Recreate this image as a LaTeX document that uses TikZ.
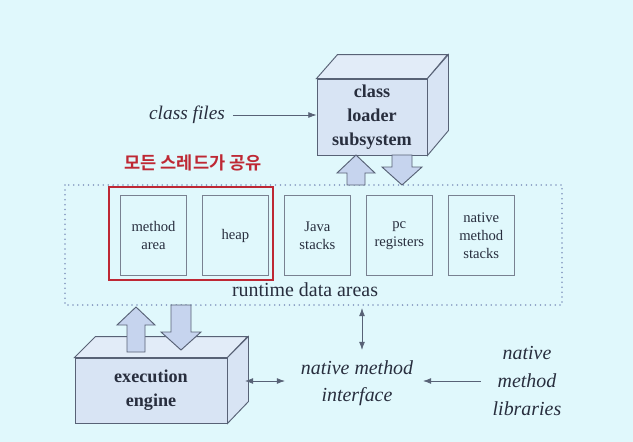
\documentclass[tikz,border=0pt]{standalone}
\usepackage{fontspec}
\setmainfont{Liberation Serif}
\newfontfamily\krfont{Noto Sans CJK KR}[BoldFont={* Bold}]
\usetikzlibrary{arrows.meta,positioning,calc}

\definecolor{bgcol}{RGB}{224,248,252}
\definecolor{facecol}{RGB}{216,228,244}
\definecolor{topcol}{RGB}{226,236,248}
\definecolor{arrcol}{RGB}{198,212,238}
\definecolor{edgecol}{RGB}{88,98,118}
\definecolor{dotcol}{RGB}{130,150,190}
\definecolor{redcol}{RGB}{190,40,52}
\definecolor{inkcol}{RGB}{40,46,62}

\tikzset{
  area/.style={draw=edgecol!80,line width=0.8pt,minimum width=1.98cm,minimum height=2.4cm,
    align=center,text=inkcol,font=\fontsize{12.5}{15.3}\selectfont},
  face/.style={draw=edgecol,line width=0.8pt,fill=facecol},
  boxtext/.style={align=center,text=inkcol,font=\bfseries\fontsize{15.5}{20.6}\selectfont},
  itext/.style={align=center,text=inkcol,font=\itshape\fontsize{16.5}{20}\selectfont},
  conn/.style={draw=edgecol,line width=0.6pt,-{Latex[length=7pt,width=5pt]}},
  both/.style={conn,{Latex[length=7pt,width=5pt]}-{Latex[length=7pt,width=5pt]}},
  blockarrow/.style={draw=edgecol,line width=0.8pt,fill=arrcol},
}

% fette Pfeile: #1 = x-Mitte, #2 = Anfang, #3 = Spitze
\newcommand{\fatup}[3]{%
  \draw[blockarrow] ({#1-9},#2) -- ({#1-9},{#3+18}) -- ({#1-19},{#3+18}) -- (#1,#3)
    -- ({#1+19},{#3+18}) -- ({#1+9},{#3+18}) -- ({#1+9},#2) -- cycle;}
\newcommand{\fatdown}[3]{%
  \draw[blockarrow] ({#1-10},#2) -- ({#1-10},{#3-18}) -- ({#1-20},{#3-18}) -- (#1,#3)
    -- ({#1+20},{#3-18}) -- ({#1+10},{#3-18}) -- ({#1+10},#2) -- cycle;}

\begin{document}
\begin{tikzpicture}[x=0.03cm,y=-0.03cm]
  \fill[bgcol] (0,0) rectangle (633,442);
  \useasboundingbox (0,0) rectangle (633,442);

  % runtime data areas
  \draw[dotcol,line width=1.5pt,line cap=round,dash pattern=on 0pt off 4.2pt] (65,185) rectangle (562,305);
  \node[area] (ma) at (153.5,235.5) {method\\area};
  \node[area,right=0.45cm of ma] (hp) {heap};
  \node[area,right=0.45cm of hp] (js) {Java\\stacks};
  \node[area,right=0.45cm of js] (pc) {pc\\registers};
  \node[area,right=0.45cm of pc] (nms) {native\\method\\stacks};
  \node[text=inkcol,font=\fontsize{17}{20}\selectfont] (rda) at (305,290) {runtime data areas};

  % alle Threads teilen sich diese Bereiche
  \draw[redcol,line width=1.6pt] (109,187) rectangle (273,280);
  \node[text=redcol,font=\krfont\bfseries\fontsize{15}{18}\selectfont] (shr) at (193,163) {모든 스레드가 공유};

  % class loader subsystem (Quader)
  \node[face,minimum width=3.3cm,minimum height=2.28cm] (cls) at (372,117) {};
  \draw[face,fill=topcol] (cls.north west) -- ++(21,-24) -- ++(110,0) -- (cls.north east) -- cycle;
  \draw[face] (cls.north east) -- ++(21,-24) -- ++(0,76) -- (cls.south east) -- cycle;
  \node[boxtext] at (cls) {class\\loader\\subsystem};
  \fatup{356}{185}{155}
  \fatdown{402}{155}{185}

  \node[itext] (cf) at (187,115) {class files};
  \draw[conn] (cf.east) ++(4,0) -- (cls.west |- cf);

  % execution engine (Quader)
  \node[face,minimum width=4.56cm,minimum height=1.95cm] (eng) at (151,390.5) {};
  \draw[face,fill=topcol] (eng.north west) -- ++(21,-21) -- ++(152,0) -- (eng.north east) -- cycle;
  \draw[face] (eng.north east) -- ++(21,-21) -- ++(0,65) -- (eng.south east) -- cycle;
  \node[boxtext] at (eng) {execution\\engine};
  \fatup{136}{352}{307}
  \fatdown{181}{305}{350}

  % native method interface
  \node[itext,font=\itshape\fontsize{17}{23}\selectfont] (nmi) at (357,383) {native method\\interface};
  \node[itext,font=\itshape\fontsize{17}{23.5}\selectfont] (nml) at (527,381) {native\\method\\libraries};
  \coordinate (rdab) at (362,308);
  \coordinate (engs) at (245,381);
  \draw[both] (rdab) -- (rdab |- 0,350);
  \draw[both] (engs) -- (285,381);
  \draw[conn] (nml.west |- engs) ++(-8,0) -- (423,381);
\end{tikzpicture}
\end{document}
